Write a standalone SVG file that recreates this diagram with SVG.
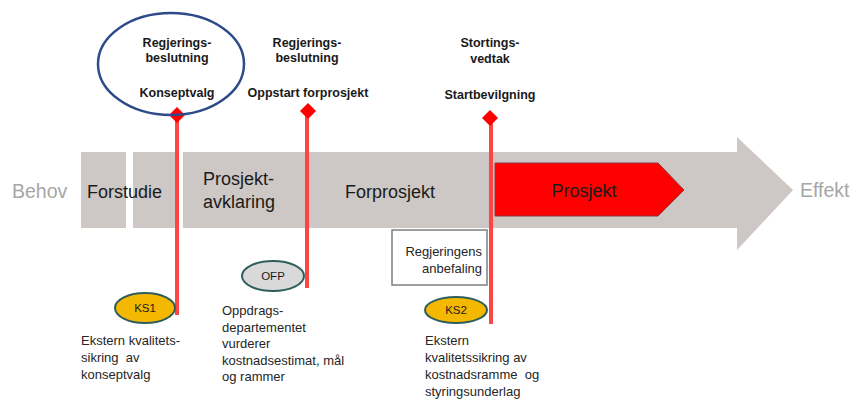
<svg xmlns="http://www.w3.org/2000/svg" width="854" height="401" viewBox="0 0 854 401">
<style>
.phase{fill:#CDC8C5}
.top{font-family:"Liberation Sans",Arial,sans-serif;font-weight:bold;font-size:12.5px;fill:#1a1a1a;text-anchor:middle}
.stage{font-family:"Liberation Sans",Arial,sans-serif;font-size:18px;fill:#1a1a1a}
.end{font-family:"Liberation Sans",Arial,sans-serif;font-size:19.5px;fill:#a6a6a6}
.note{font-family:"Liberation Sans",Arial,sans-serif;font-size:13px;fill:#262626;white-space:pre}
.ms{stroke:#FF4444;stroke-width:4;fill:none}
.dia{fill:#FF0000}
.ks{fill:#F5B800;stroke:#2E5E5C;stroke-width:2}
.ofp{fill:#D9D9D9;stroke:#2E5E5C;stroke-width:2}
.ell{font-family:"Liberation Sans",Arial,sans-serif;font-size:11.5px;fill:#1a1a1a;text-anchor:middle}
</style>
<rect width="854" height="401" fill="#ffffff"/>
<g id="arrow">
<rect class="phase" x="81" y="152" width="45" height="76"/>
<rect class="phase" x="133" y="152" width="45" height="76"/>
<polygon class="phase" points="183,152 737,152 737,137 793,190 737,250 737,228 183,228"/>
</g>
<g id="labels">
<text class="end" x="12" y="198">Behov</text>
<text class="stage" x="87" y="198">Forstudie</text>
<text class="stage" x="203" y="185">Prosjekt-</text>
<text class="stage" x="203" y="208">avklaring</text>
<text class="stage" x="345" y="198">Forprosjekt</text>
<text class="end" x="800" y="197">Effekt</text>
</g>
<g id="prosjekt">
<polygon points="495,163 658,163 684,190 658,216 495,216" fill="#FF0000" stroke="#8a3a3a" stroke-width="1"/>
<text class="stage" x="584" y="197" text-anchor="middle" fill="#200000">Prosjekt</text>
</g>
<g id="connectors">
<line class="ms" x1="177" y1="116" x2="177" y2="315"/>
<line class="ms" x1="307" y1="111" x2="307" y2="288"/>
<line class="ms" x1="491" y1="118" x2="491" y2="324"/>
<polygon class="dia" points="177,107 185,115 177,123 169,115"/>
<polygon class="dia" points="308,103 316,111 308,119 300,111"/>
<polygon class="dia" points="490,110 498,118 490,126 482,118"/>
</g>
<g id="decision1">
<ellipse cx="171" cy="64" rx="73" ry="51" fill="none" stroke="#2E4A8B" stroke-width="2.5"/>
<text class="top" x="177" y="47">Regjerings-</text>
<text class="top" x="177" y="62">beslutning</text>
<text class="top" x="177" y="97">Konseptvalg</text>
</g>
<g id="decision2">
<text class="top" x="307" y="47">Regjerings-</text>
<text class="top" x="307" y="62">beslutning</text>
<text class="top" x="308" y="97">Oppstart forprosjekt</text>
</g>
<g id="decision3">
<text class="top" x="490" y="47">Stortings-</text>
<text class="top" x="490" y="63">vedtak</text>
<text class="top" x="490" y="99">Startbevilgning</text>
</g>
<g id="anbefaling">
<rect x="392" y="230" width="95" height="55" fill="#ffffff" stroke="#7f7f7f" stroke-width="1.5"/>
<text class="note" x="482" y="256" text-anchor="end">Regjeringens</text>
<text class="note" x="482" y="273" text-anchor="end">anbefaling</text>
</g>
<g id="ks1">
<ellipse class="ks" cx="145" cy="308" rx="30" ry="15"/>
<text class="ell" x="145" y="312">KS1</text>
<text class="note" x="81" y="345">Ekstern kvalitets-</text>
<text class="note" x="81" y="362" xml:space="preserve">sikring  av</text>
<text class="note" x="81" y="379">konseptvalg</text>
</g>
<g id="ofp">
<ellipse class="ofp" cx="273" cy="276" rx="31" ry="15"/>
<text class="ell" x="273" y="280">OFP</text>
<text class="note" x="222" y="315">Oppdrags-</text>
<text class="note" x="222" y="332">departementet</text>
<text class="note" x="222" y="348">vurderer</text>
<text class="note" x="222" y="365">kostnadsestimat, mål</text>
<text class="note" x="222" y="381">og rammer</text>
</g>
<g id="ks2">
<ellipse class="ks" cx="456" cy="310" rx="31" ry="13"/>
<text class="ell" x="456" y="314">KS2</text>
<text class="note" x="425" y="345">Ekstern</text>
<text class="note" x="425" y="362">kvalitetssikring av</text>
<text class="note" x="425" y="379" xml:space="preserve">kostnadsramme  og</text>
<text class="note" x="425" y="396">styringsunderlag</text>
</g>
</svg>
